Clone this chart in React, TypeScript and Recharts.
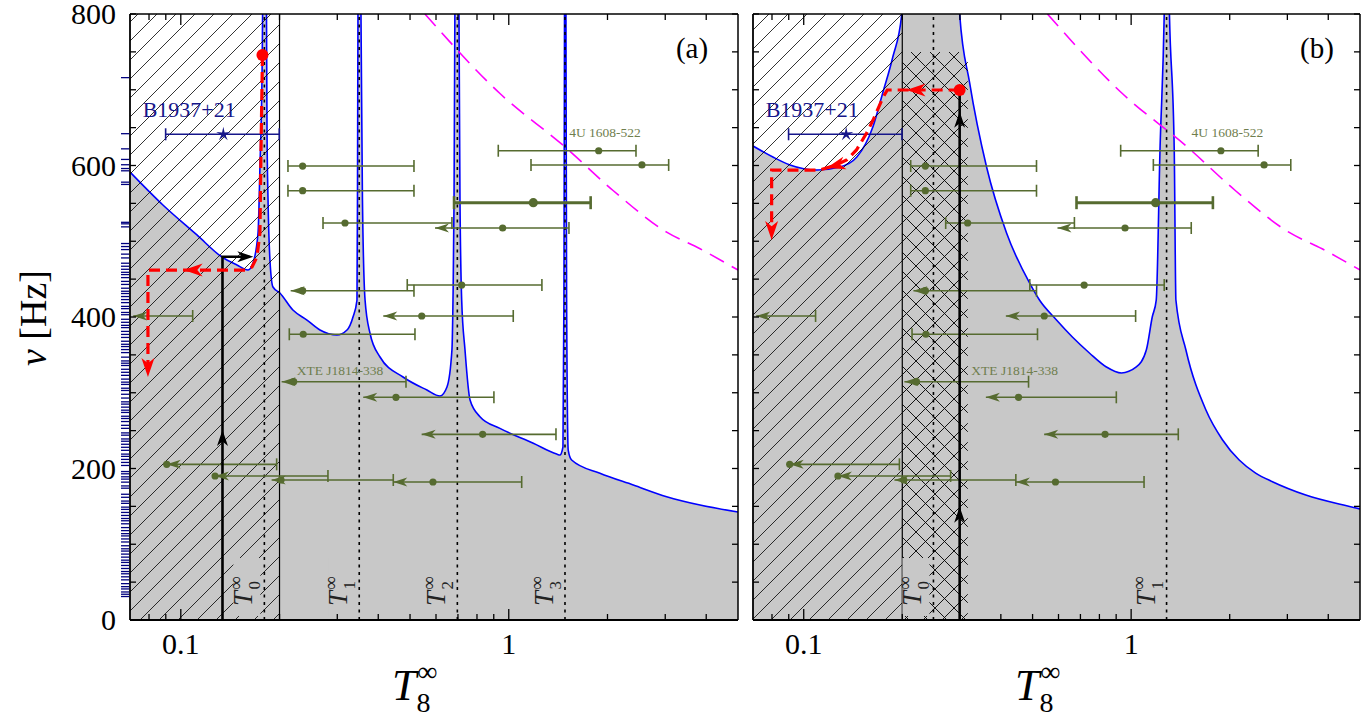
import React from "react";
import {
  ComposedChart,
  Area,
  Line,
  Scatter,
  XAxis,
  YAxis,
  ReferenceLine,
} from "recharts";

const FONT = '"Liberation Serif", "DejaVu Serif", serif';
const GRAY = "#c8c8c8";
const BLUE = "#0000ff";
const NAVY = "#16168a";
const OLIVE = "#566b30";
const OLIVE_TEXT = "#6f7e4e";
const MAGENTA = "#ff00ff";
const RED = "#ff0000";

// axes
const xDomain = [0.07, 5];
const yDomain = [0, 800];
const xTicks = [0.08, 0.09, 0.1, 0.2, 0.3, 0.4, 0.5, 0.6, 0.7, 0.8, 0.9, 1, 2, 3, 4];
const xTickLabels = [0.1, 1];
const yTicks = [0, 50, 100, 150, 200, 250, 300, 350, 400, 450, 500, 550, 600, 650, 700, 750, 800];
const yTickLabels = [0, 200, 400, 600, 800];

// spin frequencies of observed millisecond pulsars (rug on the left axis)
const pulsarNu = [
  716, 642, 622, 608, 601, 596, 593, 578, 575, 525, 523, 519, 497, 493, 489, 483, 478, 471,
  467, 463, 459, 456, 452, 447, 443, 438, 434, 431, 427, 423, 419, 414, 411, 406, 403, 397,
  393, 389, 386, 381, 377, 373, 368, 364, 361, 357, 353, 347, 342, 339, 336, 331, 327, 323,
  318, 314, 311, 306, 303, 298, 293, 288, 285, 281, 277, 274, 269, 266, 262, 257, 253, 247,
  244, 239, 236, 232, 228, 224, 219, 216, 212, 208, 204, 196, 193, 189, 186, 182, 177, 174,
  166, 162, 157, 154, 149, 146, 142, 138, 134, 131, 127, 122, 118, 114, 111, 107, 103, 98,
  94, 91, 87, 83, 79, 76, 72, 68, 64, 61, 57, 53, 48, 44, 41, 37, 34, 31,
];

// instability window boundary, panel (a)
const windowAT = [
  0.07, 0.0882, 0.112, 0.1335, 0.1483, 0.1603, 0.166, 0.172, 0.1743, 0.177, 0.1776, 0.1798,
  0.1825, 0.1832, 0.1845, 0.187, 0.191, 0.2005, 0.2197, 0.2425, 0.2657, 0.2993, 0.3212, 0.335,
  0.3445, 0.3457, 0.3469, 0.35, 0.3543, 0.358, 0.3646, 0.3773, 0.405, 0.476, 0.563, 0.617,
  0.648, 0.671, 0.676, 0.681, 0.685, 0.697, 0.705, 0.71, 0.7185, 0.7355, 0.762, 0.817, 0.94,
  1.188, 1.4, 1.432, 1.463, 1.473, 1.479, 1.484, 1.494, 1.501, 1.518, 1.555, 1.897, 2.397,
  3.03, 3.83, 5.0,
];
const windowANu = [
  591.4, 547.9, 508.3, 479.2, 468.6, 462, 471.3, 511, 598, 730, 800, 1000,
  800, 643, 554.5, 475, 439.6, 431.7, 409.2, 396, 382.8, 376.2, 382.8, 400,
  422.4, 554.5, 800, 1000, 800, 554.5, 422.4, 378.9, 347.2, 320.8, 303.6, 295.7,
  307.6, 356.4, 422.4, 554.5, 800, 1000, 800, 554.5, 422.4, 356.4, 290.4, 268.4, 253,
  233.3, 219, 217.8, 228.4, 422.4, 800, 1000, 800, 422.4, 224.4, 211.2, 193.7, 178.2,
  162.8, 151.8, 142.6,
];

// instability window boundary, panel (b)
const windowBT = [
  0.07, 0.0805, 0.0908, 0.1096, 0.1289, 0.1453, 0.1626, 0.1743, 0.1871, 0.1993, 0.21, 0.29,
  0.2994, 0.3212, 0.3618, 0.4164, 0.4894, 0.5248, 0.5916, 0.6615, 0.7457, 0.8403, 0.9335,
  1.037, 1.1126, 1.16, 1.193, 1.225, 1.262, 1.283, 1.309, 1.354, 1.37, 1.47, 1.692, 1.9,
  2.138, 2.4, 2.701, 3.414, 4.9, 5.0,
];
const windowBNu = [
  625.7, 611.2, 600.7, 594, 598, 611.2, 650.8, 695.7, 743.2, 800, 1000, 1000,
  800, 709, 598, 510.9, 444.9, 422.4, 396, 373.6, 352.5, 334, 326.1,
  334, 356.4, 400, 422.4, 620.5, 800, 1000, 800, 620.5, 422.4, 356.4, 277.2, 238,
  211.2, 194, 182.6, 165, 147.5, 146.5,
];

// resonance temperatures T_n
const resonanceAT = [0.1798, 0.35, 0.697, 1.484];
const resonanceAIdx = ["0", "1", "2", "3"];
const resonanceBT = [0.249, 1.283];
const resonanceBIdx = ["0", "1"];

// hatched (superfluid) band and cross-hatched band of panel (b)
const hatchT = [0.07, 0.2];
const crossT = [0.2, 0.317];
const crossTopNu = 750;

// magenta dashed curve
const keplerT = [0.555, 0.94, 1.48, 2.08, 3.03, 3.83, 5.0];
const keplerNu = [800, 695, 625, 567, 512, 490, 462];

// LMXB temperatures: low end, best value, high end (null = no point shown)
const lmxbNu = [599.3, 566.7, 524.1, 517.5, 550.9, 619.5, 600.7, 434.7, 442.2, 401.3, 401.3, 377.2, 314.6, 294.0, 245.1, 205.5, 190.1, 184.8, 182.2];
const lmxbTlow = [0.2122, 0.2122, 0.2714, 0.5957, 0.681, 0.929, 1.169, 0.2163, 0.4903, 0.0716, 0.4143, 0.2142, 0.203, 0.36, 0.5425, 0.0906, 0.1272, 0.1892, 0.4445];
const lmxbT = [0.2352, 0.2352, 0.3167, 0.958, 1.188, 1.88, 2.547, 0.2352, 0.7185, null, 0.5428, 0.2362, 0.2209, 0.453, 0.8324, 0.0906, 0.1272, 0.2021, 0.5873];
const lmxbThigh = [0.514, 0.514, 0.671, 1.526, 1.777, 2.443, 3.073, 0.514, 1.262, 0.1087, 1.032, 0.5176, 0.486, 0.901, 1.393, 0.196, 0.281, 0.4445, 1.095];
const lmxbUpperLimit = [false, false, false, true, false, false, false, true, false, true, true, false, true, true, true, true, true, true, true];
const lmxbWideIdx = 4;

// B1937+21
const b1937Nu = 641.2;
const b1937T = 0.1348;
const b1937Tlow = 0.0899;
const b1937Thigh = 0.1996;

// text annotations
const b1937Label = { T: 0.0765, v: 664, text: "B1937+21" };
const u1608Label = { T: 1.529, v: 637.2, text: "4U 1608-522" };
const xteLabelAT = 0.2256;
const xteLabelBT = 0.325;
const xteLabelNu = 323.4;

// evolution tracks, panel (a)
const trackAT = [0.1774, 0.1756, 0.1743, 0.1707, 0.1648, 0.157, 0.0794, 0.0794];
const trackANu = [745.9, 620.5, 511, 479.2, 466, 462, 462, 330];
const trackAArrowT = [0.102, 0.0794];
const trackAArrowNu = [462, 320.8];
const trackAArrowDir = [180, 90];
const spinUpAT = [0.134, 0.134, 0.162];
const spinUpANu = [0, 479.6, 479.6];
const spinUpAArrowT = [0.134, 0.1664];
const spinUpAArrowNu = [250.8, 479.6];
const spinUpAArrowDir = [-90, 0];

// evolution tracks, panel (b)
const trackBT = [0.2994, 0.18, 0.1747, 0.1629, 0.1555, 0.1449, 0.1352, 0.1259, 0.112, 0.0798, 0.0798];
const trackBNu = [699.7, 699.7, 690, 660, 642.5, 620.5, 607.3, 600.7, 594, 594, 512];
const trackBArrowT = [0.206, 0.1174, 0.0798];
const trackBArrowNu = [699.7, 596.7, 501.7];
const trackBArrowDir = [180, 165, 90];
const spinUpBT = [0.2994, 0.2994];
const spinUpBNu = [0, 699.7];
const spinUpBArrowT = [0.2994, 0.2994];
const spinUpBArrowNu = [671, 149.6];
const spinUpBArrowDir = [-90, -90];

const rows = (ts: number[], vs: number[]) => ts.map((T, i) => ({ T, v: vs[i] }));
const arrowRows = (ts: number[], vs: number[], dirs: number[]) =>
  ts.map((T, i) => ({ T, v: vs[i], dir: dirs[i] }));

// ---------- shapes ----------
const arrowShape = (color: string, len: number, half: number) => (p: any) => {
  if (p.cx == null || p.cy == null) return <g />;
  const a = p.payload?.dir ?? 180;
  return (
    <path
      d={`M0,0 L${-len},${-half} L${-len * 0.72},0 L${-len},${half} Z`}
      transform={`translate(${p.cx},${p.cy}) rotate(${a})`}
      fill={color}
    />
  );
};

const capShape = (color: string, half: number, w: number) => (p: any) => {
  if (p.cx == null || p.cy == null) return <g />;
  return <line x1={p.cx} x2={p.cx} y1={p.cy - half} y2={p.cy + half} stroke={color} strokeWidth={w} />;
};

const dotShape = (color: string, r: number) => (p: any) => {
  if (p.cx == null || p.cy == null) return <g />;
  return <circle cx={p.cx} cy={p.cy} r={r} fill={color} />;
};

const starShape = (p: any) => {
  if (p.cx == null || p.cy == null) return <g />;
  const pts: string[] = [];
  for (let k = 0; k < 10; k++) {
    const r = k % 2 === 0 ? 7.5 : 2.2;
    const a = -Math.PI / 2 + (k * Math.PI) / 5;
    pts.push(`${p.cx + r * Math.cos(a)},${p.cy + r * Math.sin(a)}`);
  }
  return <polygon points={pts.join(" ")} fill={NAVY} />;
};

const textShape = (color: string, size: number) => (p: any) => {
  if (p.cx == null || p.cy == null) return <g />;
  return (
    <text x={p.cx} y={p.cy} fill={color} fontSize={size} fontFamily={FONT}>
      {p.payload.text}
    </text>
  );
};

const resonanceLabel = (p: any) => {
  if (p.cx == null || p.cy == null) return <g />;
  const x = p.cx - 12;
  const y = p.cy - 14;
  return (
    <g>
      <rect x={p.cx - 31} y={p.cy - 62} width={27} height={58} fill={GRAY} />
      <text transform={`rotate(-90 ${x} ${y})`} x={x} y={y} fontFamily={FONT} fill="#222">
        <tspan fontSize={27} fontStyle="italic">T</tspan>
        <tspan fontSize={19} dx={1} dy={-10}>∞</tspan>
        <tspan fontSize={17} dx={-13} dy={18}>{p.payload.idx}</tspan>
      </text>
    </g>
  );
};

// ---------- ticks ----------
const BottomTick = (p: any) => {
  const { x, y, payload } = p;
  const major = xTickLabels.includes(payload.value);
  return (
    <g>
      <line x1={x} x2={x} y1={y} y2={y - (major ? 11 : 6)} stroke="#000" strokeWidth={1.3} />
      {major && (
        <text x={x} y={y + 34} textAnchor="middle" fontFamily={FONT} fontSize={30} fill="#000">
          {payload.value}
        </text>
      )}
    </g>
  );
};

const TopTick = (p: any) => {
  const { x, y, payload } = p;
  const major = xTickLabels.includes(payload.value);
  return <line x1={x} x2={x} y1={y} y2={y + (major ? 11 : 6)} stroke="#000" strokeWidth={1.3} />;
};

const leftTick = (withLabels: boolean) => (p: any) => {
  const { x, y, payload } = p;
  if (!yTicks.includes(payload.value)) {
    return <line x1={x - 9} x2={x - 0.8} y1={y} y2={y} stroke="#00007f" strokeWidth={1.3} />;
  }
  return (
    <g>
      <line x1={x} x2={x + 6} y1={y} y2={y} stroke="#000" strokeWidth={1.3} />
      {withLabels && yTickLabels.includes(payload.value) && (
        <text x={x - 14} y={y + 10} textAnchor="end" fontFamily={FONT} fontSize={30} fill="#000">
          {payload.value}
        </text>
      )}
    </g>
  );
};

const RightTick = (p: any) => {
  const { x, y } = p;
  return <line x1={x} x2={x - 6} y1={y} y2={y} stroke="#000" strokeWidth={1.3} />;
};

// ---------- panel ----------
type PanelCfg = {
  id: string;
  width: number;
  margin: { top: number; left: number; right: number; bottom: number };
  windowT: number[];
  windowNu: number[];
  resT: number[];
  resIdx: string[];
  cross: boolean;
  xteT: number;
  trackT: number[];
  trackNu: number[];
  trackArrows: { T: number; v: number; dir: number }[];
  spinT: number[];
  spinNu: number[];
  spinArrows: { T: number; v: number; dir: number }[];
  rug: boolean;
};

function Panel({ cfg }: { cfg: PanelCfg }) {
  const id = cfg.id;
  const win = rows(cfg.windowT, cfg.windowNu);
  const hatch = rows(hatchT, [800, 800]);
  const cross = rows(crossT, [crossTopNu, crossTopNu]);
  const kepler = rows(keplerT, keplerNu);

  const caps: { T: number; v: number }[] = [];
  const wideCaps: { T: number; v: number }[] = [];
  const arrows: { T: number; v: number; dir: number }[] = [];
  const dots: { T: number; v: number }[] = [];
  lmxbNu.forEach((v, i) => {
    const target = i === lmxbWideIdx ? wideCaps : caps;
    target.push({ T: lmxbThigh[i], v });
    if (lmxbUpperLimit[i]) arrows.push({ T: lmxbTlow[i], v, dir: 180 });
    else target.push({ T: lmxbTlow[i], v });
    const t = lmxbT[i];
    if (t != null && i !== lmxbWideIdx) dots.push({ T: t, v });
  });
  const wideDot = [{ T: lmxbT[lmxbWideIdx] as number, v: lmxbNu[lmxbWideIdx] }];

  const resonances = cfg.resT.map((T, i) => ({ T, v: 0, idx: cfg.resIdx[i] }));
  const labelsNavy = [b1937Label];
  const labelsOlive = [u1608Label, { T: cfg.xteT, v: xteLabelNu, text: "XTE J1814-338" }];

  return (
    <ComposedChart width={cfg.width} height={720} margin={cfg.margin}>
      <defs>
        <pattern id={`hatch-${id}`} patternUnits="userSpaceOnUse" width={19} height={19}>
          <path d="M-2,2 L2,-2 M0,19 L19,0 M17,21 L21,17" stroke="#000" strokeWidth={0.8} />
        </pattern>
        <pattern id={`cross-${id}`} patternUnits="userSpaceOnUse" width={19} height={19}>
          <path d="M0,0 L19,19 M19,0 L0,19" stroke="#000" strokeWidth={0.9} />
        </pattern>
      </defs>
      <XAxis
        dataKey="T"
        type="number"
        scale="log"
        domain={xDomain}
        allowDataOverflow
        ticks={xTicks}
        interval={0}
        height={1}
        tickSize={0}
        tickMargin={0}
        tickLine={false}
        axisLine={{ stroke: "#000", strokeWidth: 2.2 }}
        tick={BottomTick}
      />
      <XAxis
        xAxisId="top"
        orientation="top"
        dataKey="T"
        type="number"
        scale="log"
        domain={xDomain}
        allowDataOverflow
        ticks={xTicks}
        interval={0}
        height={1}
        tickSize={0}
        tickMargin={0}
        tickLine={false}
        axisLine={{ stroke: "#000", strokeWidth: 1.5 }}
        tick={TopTick}
      />
      <YAxis
        dataKey="v"
        type="number"
        domain={yDomain}
        allowDataOverflow
        ticks={cfg.rug ? [...yTicks, ...pulsarNu] : yTicks}
        interval={0}
        width={1}
        tickSize={0}
        tickMargin={0}
        tickLine={false}
        axisLine={{ stroke: "#000", strokeWidth: 1.8 }}
        tick={leftTick(cfg.rug)}
      />
      <YAxis
        yAxisId="right"
        orientation="right"
        type="number"
        domain={yDomain}
        allowDataOverflow
        ticks={yTicks}
        interval={0}
        width={1}
        tickSize={0}
        tickMargin={0}
        tickLine={false}
        axisLine={{ stroke: "#000", strokeWidth: 1.5 }}
        tick={RightTick}
      />

      <Area
        data={win}
        dataKey="v"
        type="monotoneX"
        baseValue={0}
        fill={GRAY}
        fillOpacity={1}
        stroke={BLUE}
        strokeWidth={1.6}
        isAnimationActive={false}
      />
      <Area
        data={hatch}
        dataKey="v"
        type="linear"
        baseValue={0}
        fill={`url(#hatch-${id})`}
        fillOpacity={1}
        stroke="none"
        isAnimationActive={false}
      />
      {cfg.cross && (
        <Area
          data={cross}
          dataKey="v"
          type="linear"
          baseValue={0}
          fill={`url(#cross-${id})`}
          fillOpacity={1}
          stroke="none"
          isAnimationActive={false}
        />
      )}

      <ReferenceLine x={0.2} stroke="#000" strokeWidth={1.2} />
      {cfg.resT.map((T) => (
        <ReferenceLine key={`res-${T}`} x={T} stroke="#000" strokeWidth={1.6} strokeDasharray="3 4.5" />
      ))}

      <Line
        data={kepler}
        dataKey="v"
        type="monotone"
        stroke={MAGENTA}
        strokeWidth={1.6}
        strokeDasharray="16 9"
        dot={false}
        activeDot={false}
        isAnimationActive={false}
      />

      {lmxbNu.map((v, i) => (
        <Line
          key={`bar-${i}`}
          data={[
            { T: lmxbTlow[i], v },
            { T: lmxbThigh[i], v },
          ]}
          dataKey="v"
          type="linear"
          stroke={OLIVE}
          strokeWidth={i === lmxbWideIdx ? 3 : 1.6}
          dot={false}
          activeDot={false}
          isAnimationActive={false}
        />
      ))}
      <Scatter data={caps} shape={capShape(OLIVE, 6, 1.6)} isAnimationActive={false} />
      <Scatter data={wideCaps} shape={capShape(OLIVE, 6.5, 2.6)} isAnimationActive={false} />
      <Scatter data={arrows} shape={arrowShape(OLIVE, 14, 4.5)} isAnimationActive={false} />
      <Scatter data={dots} shape={dotShape(OLIVE, 3.6)} isAnimationActive={false} />
      <Scatter data={wideDot} shape={dotShape(OLIVE, 4.6)} isAnimationActive={false} />

      <Line
        data={rows([b1937Tlow, b1937Thigh], [b1937Nu, b1937Nu])}
        dataKey="v"
        type="linear"
        stroke={NAVY}
        strokeWidth={1.6}
        dot={false}
        activeDot={false}
        isAnimationActive={false}
      />
      <Scatter
        data={rows([b1937Tlow, b1937Thigh], [b1937Nu, b1937Nu])}
        shape={capShape(NAVY, 6, 1.6)}
        isAnimationActive={false}
      />
      <Scatter data={rows([b1937T], [b1937Nu])} shape={starShape} isAnimationActive={false} />

      <Line
        data={rows(cfg.spinT, cfg.spinNu)}
        dataKey="v"
        type="linear"
        stroke="#000"
        strokeWidth={2.6}
        dot={false}
        activeDot={false}
        isAnimationActive={false}
      />
      <Scatter data={cfg.spinArrows} shape={arrowShape("#000", 16, 5.5)} isAnimationActive={false} />

      <Line
        data={rows(cfg.trackT, cfg.trackNu)}
        dataKey="v"
        type="linear"
        stroke={RED}
        strokeWidth={3.2}
        strokeDasharray="11 6"
        dot={false}
        activeDot={false}
        isAnimationActive={false}
      />
      <Scatter data={cfg.trackArrows} shape={arrowShape(RED, 19, 6.5)} isAnimationActive={false} />
      <Scatter data={rows([cfg.trackT[0]], [cfg.trackNu[0]])} shape={dotShape(RED, 6)} isAnimationActive={false} />

      <Scatter data={labelsNavy} shape={textShape(NAVY, 22)} isAnimationActive={false} />
      <Scatter data={labelsOlive} shape={textShape(OLIVE_TEXT, 13.5)} isAnimationActive={false} />
      <Scatter data={resonances} shape={resonanceLabel} isAnimationActive={false} />
    </ComposedChart>
  );
}

const panelA: PanelCfg = {
  id: "a",
  width: 745,
  margin: { top: 13, left: 129, right: 6, bottom: 99 },
  windowT: windowAT,
  windowNu: windowANu,
  resT: resonanceAT,
  resIdx: resonanceAIdx,
  cross: false,
  xteT: xteLabelAT,
  trackT: trackAT,
  trackNu: trackANu,
  trackArrows: arrowRows(trackAArrowT, trackAArrowNu, trackAArrowDir),
  spinT: spinUpAT,
  spinNu: spinUpANu,
  spinArrows: arrowRows(spinUpAArrowT, spinUpAArrowNu, spinUpAArrowDir),
  rug: true,
};

const panelB: PanelCfg = {
  id: "b",
  width: 627,
  margin: { top: 13, left: 7, right: 11, bottom: 99 },
  windowT: windowBT,
  windowNu: windowBNu,
  resT: resonanceBT,
  resIdx: resonanceBIdx,
  cross: true,
  xteT: xteLabelBT,
  trackT: trackBT,
  trackNu: trackBNu,
  trackArrows: arrowRows(trackBArrowT, trackBArrowNu, trackBArrowDir),
  spinT: spinUpBT,
  spinNu: spinUpBNu,
  spinArrows: arrowRows(spinUpBArrowT, spinUpBArrowNu, spinUpBArrowDir),
  rug: false,
};

function XTitle({ x }: { x: number }) {
  return (
    <text x={x} y={700} fontFamily={FONT} fill="#000">
      <tspan fontSize={44} fontStyle="italic">T</tspan>
      <tspan fontSize={28} dx={1} dy={-19}>∞</tspan>
      <tspan fontSize={28} dx={-21} dy={31}>8</tspan>
    </text>
  );
}

export default function App() {
  return (
    <div
      style={{
        position: "absolute",
        left: 0,
        top: 0,
        width: 1372,
        height: 720,
        background: "#fff",
        fontFamily: FONT,
      }}
    >
      <div style={{ position: "absolute", left: 0, top: 0 }}>
        <Panel cfg={panelA} />
      </div>
      <div style={{ position: "absolute", left: 745, top: 0 }}>
        <Panel cfg={panelB} />
      </div>
      <svg
        width={1372}
        height={720}
        style={{ position: "absolute", left: 0, top: 0, pointerEvents: "none" }}
      >
        <text
          transform="rotate(-90 46 318)"
          x={46}
          y={318}
          textAnchor="middle"
          fontFamily={FONT}
          fontSize={38}
          fill="#000"
        >
          <tspan fontStyle="italic">ν</tspan>
          <tspan> [Hz]</tspan>
        </text>
        <XTitle x={392} />
        <XTitle x={1015} />
        <text x={692} y={58} textAnchor="middle" fontFamily={FONT} fontSize={29} fill="#000">
          (a)
        </text>
        <text x={1317} y={58} textAnchor="middle" fontFamily={FONT} fontSize={29} fill="#000">
          (b)
        </text>
      </svg>
    </div>
  );
}
